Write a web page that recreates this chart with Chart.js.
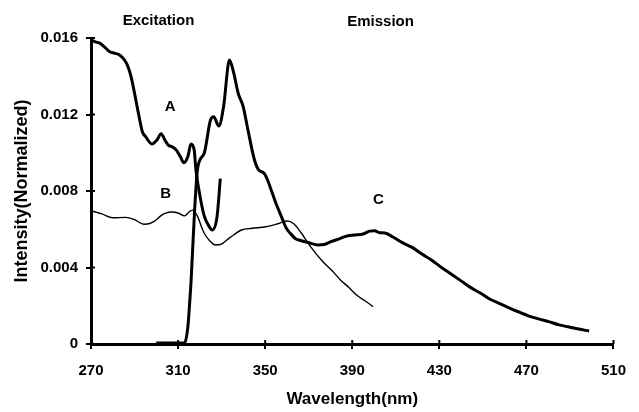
<!DOCTYPE html>
<html>
<head>
<meta charset="utf-8">
<script src="https://cdn.jsdelivr.net/npm/chart.js@4/dist/chart.umd.min.js"></script>
<style>
  html, body { margin: 0; padding: 0; background: #fff; }
  #wrap { width: 639px; height: 412px; }
</style>
</head>
<body>
<div id="wrap"><canvas id="c" width="639" height="412"></canvas></div>
<script>
// Curve A (excitation, thick)
const aWl  = [270, 272, 274.2, 276.5, 278.6, 281, 283.1, 285.4, 287, 288.4, 290.6, 292.1, 293.6, 295.1, 298, 300.3, 302.2, 304, 305.5, 307.5, 309.2, 311, 312.7, 314.5, 315.9, 317.4, 318.2, 320.4, 322, 324, 325.7, 327.9, 329.4];
const aVal = [0.0159, 0.0158, 0.01572, 0.0155, 0.01528, 0.0152, 0.01511, 0.01485, 0.0145, 0.01398, 0.01276, 0.01188, 0.0111, 0.01084, 0.01046, 0.01067, 0.0110, 0.01065, 0.0104, 0.0103, 0.01014, 0.0098, 0.00948, 0.0098, 0.01046, 0.01014, 0.0091, 0.00753, 0.0067, 0.0062, 0.00596, 0.00666, 0.00865];

// Curve B (thin)
const bWl  = [270, 275, 280, 286, 290, 294.3, 297, 299.5, 302, 304, 307, 310, 313, 315, 316.7, 319, 320.5, 322, 324.5, 327.1, 329.5, 332.4, 335.5, 339.1, 344, 350.3, 356.2, 360, 363, 366.7, 369.7, 373.5, 377.2, 381, 384.6, 388.5, 392, 396, 399.6];
const bVal = [0.00697, 0.0068, 0.0066, 0.00662, 0.0065, 0.00626, 0.0063, 0.00645, 0.0067, 0.00683, 0.0069, 0.00685, 0.0067, 0.0069, 0.007, 0.00666, 0.0062, 0.00579, 0.0054, 0.00518, 0.0052, 0.00544, 0.0057, 0.00596, 0.00605, 0.00613, 0.0063, 0.00643, 0.0063, 0.00579, 0.00527, 0.0047, 0.00422, 0.0038, 0.00335, 0.00295, 0.00256, 0.00225, 0.00195];

// Curve C (emission, thick)
const cWl  = [300, 306, 313, 314.5, 315.2, 316, 317.5, 319, 322, 324.9, 326.4, 328.7, 330.9, 333.6, 335.5, 337.6, 339.9, 342.1, 345.1, 347, 349.5, 351, 353.3, 355.5, 357.8, 359.5, 361.5, 364, 366.7, 370, 374.2, 377, 380.2, 384, 387.6, 391, 395, 398, 400.3, 402.5, 405, 408.5, 413, 417.5, 422, 426.4, 431, 435.4, 440, 444.3, 449, 453.3, 458, 462.3, 467, 471.2, 476, 480.2, 485, 489.2, 494, 498.8];
const cVal = [0.00005, 0.00005, 0.00005, 0.0009, 0.00195, 0.00335, 0.0068, 0.0092, 0.00997, 0.01171, 0.01188, 0.0114, 0.01241, 0.01485, 0.0142, 0.01311, 0.01241, 0.01119, 0.00962, 0.0091, 0.00893, 0.0086, 0.00788, 0.0072, 0.00657, 0.0061, 0.00579, 0.0055, 0.0054, 0.0053, 0.00518, 0.0052, 0.00535, 0.0055, 0.00565, 0.0057, 0.00575, 0.0059, 0.00592, 0.00582, 0.0058, 0.00561, 0.0053, 0.00505, 0.0047, 0.00439, 0.004, 0.00366, 0.0033, 0.00296, 0.00265, 0.00234, 0.0021, 0.00187, 0.00165, 0.00146, 0.0013, 0.00117, 0.001, 0.0009, 0.00078, 0.00068];

// Axis ticks
const xTicks = [270, 310, 350, 390, 430, 470, 510];
const yTicks = [0, 0.004, 0.008, 0.012, 0.016];

// Text annotations (data coordinates)
const noteText = ['Excitation', 'Emission', 'A', 'B', 'C'];
const noteX    = [301, 403, 306.4, 304.3, 402];
const noteY    = [0.0169, 0.01685, 0.0124, 0.00787, 0.00753];

const pts = (xs, ys) => xs.map((x, i) => ({ x: x, y: ys[i] }));

const notesPlugin = {
  id: 'notes',
  afterDatasetsDraw(chart) {
    const ctx = chart.ctx;
    const xs = chart.scales.x, ys = chart.scales.y;
    ctx.save();
    ctx.fillStyle = '#000';
    ctx.textAlign = 'center';
    ctx.textBaseline = 'middle';
    ctx.font = 'bold 15px "Liberation Sans", Arial, sans-serif';
    noteText.forEach((t, i) => {
      ctx.fillText(t, xs.getPixelForValue(noteX[i]), ys.getPixelForValue(noteY[i]));
    });
    // inner tick marks crossing the axes
    ctx.strokeStyle = '#000';
    ctx.lineWidth = 2;
    xTicks.forEach(v => {
      const px = xs.getPixelForValue(v);
      ctx.beginPath(); ctx.moveTo(px, xs.top); ctx.lineTo(px, xs.top - 4); ctx.stroke();
    });
    yTicks.forEach(v => {
      const py = ys.getPixelForValue(v);
      ctx.beginPath(); ctx.moveTo(ys.right, py); ctx.lineTo(ys.right + 4, py); ctx.stroke();
    });
    ctx.restore();
  }
};

new Chart(document.getElementById('c'), {
  type: 'line',
  data: {
    datasets: [
      { label: 'A', data: pts(aWl, aVal), borderColor: '#000', borderWidth: 3, pointRadius: 0, cubicInterpolationMode: 'monotone', fill: false },
      { label: 'B', data: pts(bWl, bVal), borderColor: '#000', borderWidth: 1.4, pointRadius: 0, cubicInterpolationMode: 'monotone', fill: false },
      { label: 'C', data: pts(cWl, cVal), borderColor: '#000', borderWidth: 3, pointRadius: 0, cubicInterpolationMode: 'monotone', fill: false }
    ]
  },
  options: {
    responsive: false,
    animation: false,
    events: [],
    layout: { padding: { left: 0, right: 12.5, top: 38, bottom: 0 } },
    plugins: { legend: { display: false }, tooltip: { enabled: false } },
    scales: {
      x: {
        type: 'linear',
        min: 270, max: 510,
        afterBuildTicks: s => { s.ticks = xTicks.map(v => ({ value: v })); },
        afterFit: s => { s.height = 68; },
        border: { display: true, color: '#000', width: 3 },
        grid: { display: true, drawOnChartArea: false, drawTicks: true, tickLength: 5, color: '#000', lineWidth: 2 },
        ticks: { color: '#000', padding: 13, font: { family: '"Liberation Sans", Arial, sans-serif', size: 15, weight: 'bold' }, maxRotation: 0 },
        title: { display: true, text: 'Wavelength(nm)', color: '#000', padding: { top: 0, bottom: 2 }, font: { family: '"Liberation Sans", Arial, sans-serif', size: 17, weight: 'bold' } }
      },
      y: {
        type: 'linear',
        min: 0, max: 0.016,
        afterBuildTicks: s => { s.ticks = yTicks.map(v => ({ value: v })); },
        afterFit: s => { s.width = 91; },
        border: { display: true, color: '#000', width: 3 },
        grid: { display: true, drawOnChartArea: false, drawTicks: true, tickLength: 5, color: '#000', lineWidth: 2 },
        ticks: { color: '#000', padding: 8, font: { family: '"Liberation Sans", Arial, sans-serif', size: 15, weight: 'bold' }, callback: v => v === 0 ? '0' : v.toFixed(3) },
        title: { display: true, text: 'Intensity(Normalized)', color: '#000', padding: { top: 11, bottom: 0 }, font: { family: '"Liberation Sans", Arial, sans-serif', size: 18, weight: 'bold' } }
      }
    }
  },
  plugins: [notesPlugin]
});
</script>
</body>
</html>
